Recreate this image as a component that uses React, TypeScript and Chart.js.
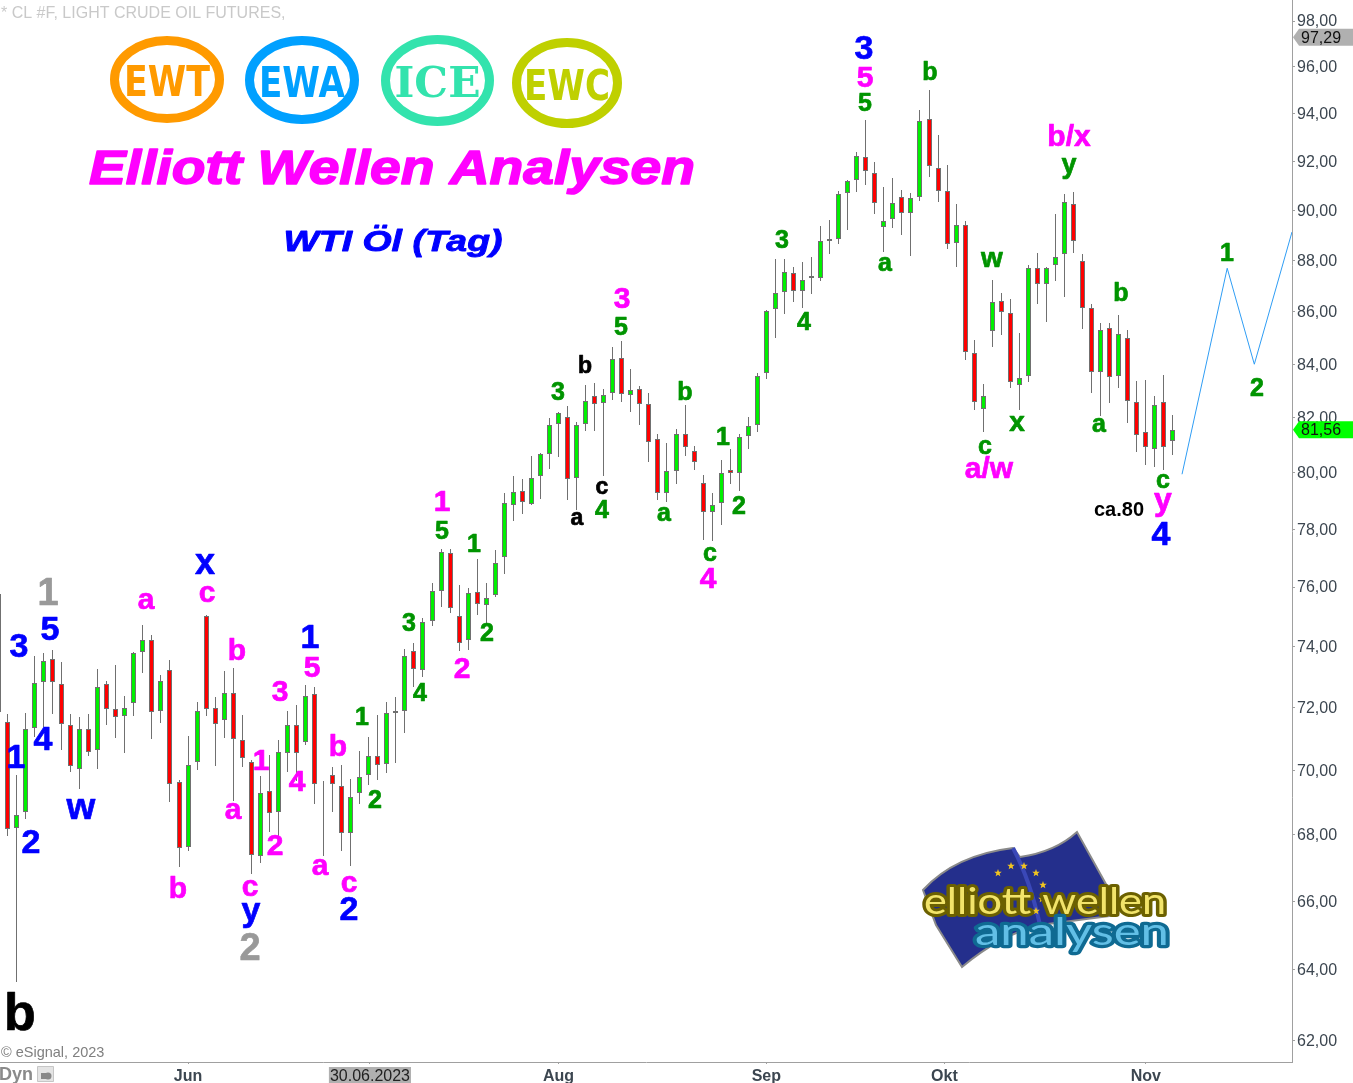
import React, { useEffect, useRef } from "react";
import { Chart, registerables } from "chart.js";

Chart.register(...registerables);

const firstDay = -1;
const opens = [75.76,
  71.54,68.19,68.71,71.35,72.84,73.57,72.75,71.43,70.05,71.30,
  70.63,72.75,71.94,71.71,72.13,73.80,74.20,71.90,73.21,69.62,
  67.61,70.25,75.01,71.97,71.59,72.46,70.95,70.25,67.34,69.34,
  68.70,70.53,71.43,70.90,72.43,69.49,69.84,69.49,68.04,69.28,
  69.84,70.44,70.18,71.81,71.90,73.84,73.21,74.84,75.85,77.16,
  75.01,74.20,75.82,75.38,75.72,77.03,78.87,79.34,78.90,79.87,
  80.67,81.76,82.02,79.80,81.76,82.80,82.54,82.91,84.22,82.84,
  83.06,82.50,81.22,79.27,80.05,81.40,80.78,79.62,78.60,78.91,
  80.12,79.98,81.33,81.73,83.66,86.10,86.76,87.50,86.80,87.33,
  87.31,88.77,88.85,90.71,91.24,92.18,91.52,89.33,89.65,90.54,
  89.89,90.54,93.77,91.73,90.79,88.69,89.41,84.41,82.32,85.25,
  86.41,85.94,83.21,83.55,87.70,87.07,87.82,88.25,90.26,87.97,
  86.14,83.69,85.37,83.55,84.99,82.58,81.47,80.85,82.58,81.14];
const closes = [71.84,
  68.16,68.60,71.30,72.79,73.51,72.82,71.46,70.12,71.30,70.56,
  72.66,71.94,71.68,71.97,73.77,74.20,71.84,72.85,69.56,67.58,
  70.15,71.87,71.94,71.46,72.46,70.98,70.37,67.37,69.28,68.67,
  70.56,71.43,70.53,72.36,69.56,69.51,69.56,68.04,69.15,69.77,
  70.44,70.15,71.81,71.90,73.67,73.25,74.81,75.85,77.20,75.28,
  74.13,75.79,75.42,75.62,76.82,78.91,79.30,78.95,79.80,80.67,
  81.73,82.17,79.77,81.73,82.61,82.50,82.84,84.18,82.88,83.02,
  82.50,81.11,79.27,80.05,81.40,80.93,80.38,78.60,78.87,80.01,
  79.98,81.29,81.69,83.55,86.02,86.72,87.54,86.80,87.23,87.39,
  88.77,88.85,90.67,91.20,92.22,91.60,90.30,89.57,90.30,89.89,
  90.50,93.69,91.81,90.79,88.65,89.41,84.45,82.58,82.80,86.37,
  85.98,83.32,83.47,87.70,87.07,87.70,88.13,90.34,88.77,86.14,
  83.69,85.29,83.51,85.14,82.61,81.36,80.93,82.47,80.93,81.56];
const highs = [75.76,
  71.78,69.84,71.81,73.68,73.77,73.88,73.49,71.78,71.69,71.78,
  73.26,72.85,73.39,72.36,73.81,74.72,74.37,73.05,73.55,69.68,
  71.08,72.16,75.05,72.34,73.19,73.29,71.75,70.31,69.81,70.48,
  70.95,71.88,72.07,72.72,72.67,69.66,70.10,70.16,69.72,70.61,
  71.05,71.75,72.16,72.34,73.91,74.13,74.94,76.14,77.30,77.30,
  76.07,75.97,76.97,76.14,77.28,79.27,79.88,79.78,80.61,80.71,
  81.98,82.20,82.43,81.84,83.22,83.30,83.07,84.64,84.87,83.81,
  83.17,82.91,81.40,81.07,81.58,82.47,80.96,79.91,79.27,80.45,
  80.85,81.40,82.02,83.66,86.07,88.06,88.06,87.75,87.95,88.14,
  89.38,89.62,90.80,91.24,92.40,93.74,91.98,90.95,91.33,90.84,
  90.72,94.16,95.01,93.12,91.86,90.27,89.58,84.92,83.26,87.24,
  86.73,86.50,85.19,87.83,88.30,87.74,89.86,90.68,90.76,88.26,
  86.30,85.56,85.57,85.88,85.30,83.37,83.41,82.81,83.58,82.10];
const lows = [71.84,
  67.95,63.65,68.48,71.06,71.38,71.79,70.64,69.94,69.41,70.45,
  70.03,71.44,71.02,70.54,71.72,73.12,70.99,71.49,69.01,67.02,
  67.50,70.00,71.72,70.13,71.02,69.04,70.10,66.81,67.14,68.08,
  67.95,69.94,69.67,70.80,68.95,67.36,68.70,67.50,67.06,68.95,
  69.53,69.69,69.91,70.22,71.18,72.67,72.99,74.68,75.33,75.12,
  73.85,73.89,75.05,74.72,75.66,76.45,78.29,78.54,78.84,79.07,
  80.13,80.57,79.04,78.68,81.52,81.52,79.88,82.66,82.59,82.22,
  81.74,80.39,79.03,78.96,79.60,80.61,80.10,77.62,77.59,78.15,
  79.60,79.35,80.86,81.48,83.45,85.01,85.93,86.39,86.15,86.70,
  87.21,88.26,88.66,89.22,90.76,91.04,89.86,88.34,89.30,89.02,
  88.18,90.39,91.36,90.35,88.46,87.75,84.16,82.29,81.48,84.65,
  85.11,83.10,82.29,83.32,86.30,85.61,87.20,86.58,88.30,85.34,
  82.92,82.07,82.55,83.10,81.81,80.75,80.28,80.21,80.10,80.65];

const forecastDays = [130, 135, 138, 142.17];
const forecastPrices = [79.95, 87.7, 84.0, 89.14];

const priceTicks = [98,96,94,92,90,88,86,84,82,80,78,76,74,72,70,68,66,64,62];
const dateTickDays = [20, 40.13, 61, 84, 103.7, 126];
const dateTickLabels = ["Jun", "30.06.2023", "Aug", "Sep", "Okt", "Nov"];
const lastHigh = 97.29;
const lastClose = 81.56;

const BLUE = "#0000ff", MAG = "#ff00ff", GRN = "#009400", GRY = "#999999", BLK = "#000000";
// text, centre x, centre y, font size, colour
const waveLabels: [string, number, number, number, string][] = [
  ["1",48,591,38,GRY],["3",19,645,34,BLUE],["5",50,628,34,BLUE],["1",16,756,34,BLUE],["4",43,738,34,BLUE],
  ["2",31,841,34,BLUE],["w",81,809,37,BLUE],["b",20,1011,52,BLK],["a",146,601,30,MAG],["x",205,564,36,BLUE],
  ["c",207,594,30,MAG],["b",237,649,30,MAG],["3",280,691,30,MAG],["1",261,760,30,MAG],["a",233,811,30,MAG],
  ["4",297,781,30,MAG],["2",275,845,30,MAG],["b",178,887,30,MAG],["c",250,888,30,MAG],["y",251,915,34,BLUE],
  ["2",250,946,38,GRY],["1",310,636,34,BLUE],["5",312,667,30,MAG],["b",338,745,30,MAG],["a",320,867,30,MAG],
  ["c",349,884,30,MAG],["2",349,908,34,BLUE],["1",362,716,25,GRN],["2",375,799,25,GRN],["3",409,622,25,GRN],
  ["4",420,692,25,GRN],["1",442,501,30,MAG],["5",442,530,25,GRN],["1",474,543,25,GRN],["2",487,632,25,GRN],
  ["2",462,668,30,MAG],["3",558,391,25,GRN],["b",585,364,23,BLK],["c",602,487,23,BLK],["a",577,518,23,BLK],
  ["4",602,509,25,GRN],["3",622,298,30,MAG],["5",621,326,25,GRN],["a",664,514,25,GRN],["b",685,390,25,GRN],
  ["1",723,436,25,GRN],["2",739,505,25,GRN],["c",710,554,25,GRN],["4",708,578,30,MAG],["3",782,239,25,GRN],
  ["4",804,321,25,GRN],["3",864,47,34,BLUE],["5",865,77,30,MAG],["5",865,102,25,GRN],["b",930,70,25,GRN],
  ["a",885,264,25,GRN],["w",992,259,28,GRN],["c",985,447,25,GRN],["a/w",989,467,30,MAG],["x",1017,423,28,GRN],
  ["b/x",1069,135,30,MAG],["y",1069,168,27,GRN],["a",1099,425,25,GRN],["b",1121,291,25,GRN],["c",1163,481,25,GRN],
  ["y",1163,505,32,MAG],["4",1161,533,34,BLUE],["1",1227,252,25,GRN],["2",1257,387,25,GRN],
];
const priceNote = "ca.80";

const SANS = '"Liberation Sans", Arial, sans-serif';

function fitText(ctx: any, text: string, cx: number, cy: number, font: string, w: number, h: number, color: string, bold = 0) {
  ctx.save();
  ctx.font = font;
  ctx.textBaseline = "alphabetic";
  ctx.textAlign = "center";
  ctx.lineJoin = "round";
  const m = ctx.measureText(text);
  const mh = m.actualBoundingBoxAscent + m.actualBoundingBoxDescent;
  ctx.translate(cx, cy);
  ctx.scale(w / m.width, h / mh);
  ctx.fillStyle = color;
  const by = (m.actualBoundingBoxAscent - m.actualBoundingBoxDescent) / 2;
  if (bold > 0) {
    ctx.strokeStyle = color;
    ctx.lineWidth = bold;
    ctx.strokeText(text, 0, by);
  }
  ctx.fillText(text, 0, by);
  ctx.restore();
}

function badge(ctx: any, cx: number, cy: number, rx: number, ry: number, color: string, text: string, font: string) {
  ctx.save();
  ctx.strokeStyle = color;
  ctx.lineWidth = 9;
  ctx.beginPath();
  ctx.ellipse(cx, cy, rx - 4.5, ry - 4.5, 0, 0, Math.PI * 2);
  ctx.stroke();
  ctx.restore();
  fitText(ctx, text, cx, cy + 1, font, 86, 31, color);
}

function star(ctx: any, x: number, y: number, r: number) {
  ctx.beginPath();
  for (let i = 0; i < 10; i++) {
    const a = -Math.PI / 2 + (i * Math.PI) / 5;
    const q = i % 2 ? r * 0.42 : r;
    if (i === 0) ctx.moveTo(x + q * Math.cos(a), y + q * Math.sin(a));
    else ctx.lineTo(x + q * Math.cos(a), y + q * Math.sin(a));
  }
  ctx.closePath();
  ctx.fillStyle = "#f2c520";
  ctx.fill();
}

function logo(ctx: any) {
  ctx.save();
  ctx.beginPath();
  ctx.moveTo(923, 890);
  ctx.quadraticCurveTo(955, 855, 1013, 848);
  ctx.lineTo(1020, 857);
  ctx.quadraticCurveTo(1055, 852, 1077, 832);
  ctx.lineTo(1112, 895);
  ctx.lineTo(1118, 915);
  ctx.lineTo(1040, 925);
  ctx.quadraticCurveTo(1000, 935, 962, 967);
  ctx.lineTo(936, 925);
  ctx.closePath();
  ctx.fillStyle = "#242f8c";
  ctx.fill();
  ctx.strokeStyle = "#8a8a8a";
  ctx.lineWidth = 2;
  ctx.stroke();
  ctx.beginPath();
  ctx.moveTo(1013, 848);
  ctx.quadraticCurveTo(1030, 880, 1040, 925);
  ctx.strokeStyle = "#3a48b8";
  ctx.lineWidth = 4;
  ctx.stroke();
  const stars = [[998,873],[1011,866],[1024,866],[1036,873],[1043,885],[1042,899],[1036,911]];
  stars.forEach(([x, y]) => star(ctx, x, y, 4));
  ctx.lineJoin = "round";
  ctx.font = '37px Lato, "Noto Sans", sans-serif';
  ctx.textAlign = "left";
  ctx.textBaseline = "alphabetic";
  const drawWord = (t: string, x: number, y: number, w: number, sy: number, outer: string, fill: string) => {
    ctx.save();
    const m = ctx.measureText(t);
    ctx.translate(x, y);
    ctx.scale(w / m.width, sy);
    ctx.strokeStyle = outer;
    ctx.lineWidth = 6;
    ctx.strokeText(t, 0, 0);
    ctx.fillStyle = fill;
    ctx.fillText(t, 0, 0);
    ctx.restore();
  };
  drawWord("elliott wellen", 924, 914, 242, 1, "#6b6000", "#f2e46a");
  drawWord("analysen", 975, 945, 194, 1.05, "#0f6a92", "#62bfe6");
  ctx.restore();
}

const overlay = {
  id: "overlay",
  beforeDatasetsDraw(chart: any) {
    chart.data.datasets.forEach((ds: any, i: number) => {
      if (ds.type === "line") return;
      chart.getDatasetMeta(i).data.forEach((el: any) => {
        el.x = Math.floor(el.x) + 0.5;
        el.y = Math.round(el.y);
        el.base = Math.round(el.base);
      });
    });
  },
  afterDraw(chart: any) {
    const ctx = chart.ctx;
    const yS = chart.scales.y;
    ctx.save();
    // header
    ctx.textBaseline = "middle";
    ctx.textAlign = "left";
    ctx.font = `16px ${SANS}`;
    ctx.fillStyle = "#c9c9c9";
    ctx.fillText("* CL #F, LIGHT CRUDE OIL FUTURES,", 1, 13.5);
    badge(ctx, 167, 79.5, 57, 43.5, "#ff9a00", "EWT", 'bold 34px "DejaVu Sans"');
    badge(ctx, 302, 80, 57, 44, "#00a0ff", "EWA", 'bold 34px "DejaVu Sans"');
    badge(ctx, 437.5, 80.5, 56.5, 45.5, "#33e3ad", "ICE", 'bold 34px "DejaVu Serif"');
    badge(ctx, 567, 83, 55, 45, "#bfd000", "EWC", 'bold 34px "DejaVu Sans"');
    fitText(ctx, "Elliott Wellen Analysen", 392, 171, `italic bold 50px ${SANS}`, 606, 45, MAG, 1.6);
    fitText(ctx, "WTI Öl (Tag)", 393, 241, `italic bold 34px ${SANS}`, 219, 32, BLUE, 1);
    logo(ctx);
    // wave labels, centred on their ink box
    ctx.textAlign = "center";
    ctx.textBaseline = "alphabetic";
    ctx.lineJoin = "round";
    waveLabels.forEach(([t, x, y, s, c]) => {
      ctx.font = `bold ${s}px ${SANS}`;
      const m = ctx.measureText(t);
      const by = y + (m.actualBoundingBoxAscent - m.actualBoundingBoxDescent) / 2;
      ctx.fillStyle = c;
      ctx.strokeStyle = c;
      ctx.lineWidth = 0.7;
      ctx.strokeText(t, x, by);
      ctx.fillText(t, x, by);
    });
    ctx.font = `bold 20px ${SANS}`;
    ctx.fillStyle = BLK;
    ctx.fillText(priceNote, 1119, 516);
    // footer
    ctx.textBaseline = "middle";
    ctx.textAlign = "left";
    ctx.font = `14.5px ${SANS}`;
    ctx.fillStyle = "#808080";
    ctx.fillText("© eSignal, 2023", 1, 1053);
    ctx.font = `bold 18px ${SANS}`;
    ctx.fillStyle = "#8a8a8a";
    ctx.fillText("Dyn", -1, 1075);
    ctx.fillStyle = "#e4e4e4";
    ctx.strokeStyle = "#b5b5b5";
    ctx.fillRect(37.5, 1066.5, 16, 15);
    ctx.strokeRect(37.5, 1066.5, 16, 15);
    ctx.fillStyle = "#888";
    ctx.fillRect(41, 1073, 6, 6);
    ctx.beginPath();
    ctx.arc(48, 1076, 3.5, 0, Math.PI * 2);
    ctx.fill();
    // price tags
    const tag = (v: number, bg: string) => {
      const y = yS.getPixelForValue(v);
      ctx.beginPath();
      ctx.moveTo(1293, y);
      ctx.lineTo(1299, y - 8.5);
      ctx.lineTo(1353, y - 8.5);
      ctx.lineTo(1353, y + 8.5);
      ctx.lineTo(1299, y + 8.5);
      ctx.closePath();
      ctx.fillStyle = bg;
      ctx.fill();
      ctx.fillStyle = "#111";
      ctx.font = `16px ${SANS}`;
      ctx.textAlign = "left";
      ctx.textBaseline = "middle";
      ctx.fillText(v.toFixed(2).replace(".", ","), 1301, y + 1);
    };
    tag(lastHigh, "#b0b0b0");
    tag(lastClose, "#00ff00");
    ctx.restore();
  },
};

export default function App() {
  const ref = useRef<HTMLCanvasElement>(null);
  useEffect(() => {
    const days = opens.map((_, i) => firstDay + i);
    const chart = new Chart(ref.current as HTMLCanvasElement, {
      type: "bar",
      data: {
        datasets: [
          {
            type: "line",
            label: "Prognose",
            data: forecastDays.map((x, i) => ({ x, y: forecastPrices[i] })),
            borderColor: "#2f9df4",
            borderWidth: 1,
            pointRadius: 0,
            tension: 0,
            order: 0,
          },
          {
            label: "Körper",
            data: days.map((x, i) => ({ x, y: [Math.min(opens[i], closes[i]), Math.max(opens[i], closes[i])] })),
            backgroundColor: days.map((_, i) => (closes[i] >= opens[i] ? "#00f000" : "#ff0000")),
            borderColor: "#707070",
            borderWidth: 1,
            borderSkipped: false,
            inflateAmount: 0,
            barThickness: 5,
            grouped: false,
            order: 1,
          },
          {
            label: "Docht",
            data: days.map((x, i) => ({ x, y: [lows[i], highs[i]] })),
            backgroundColor: "#707070",
            borderWidth: 0,
            inflateAmount: 0,
            barThickness: 1,
            grouped: false,
            order: 2,
          },
        ] as any,
      },
      plugins: [overlay],
      options: {
        animation: false,
        responsive: false,
        events: [],
        layout: { padding: 0 },
        plugins: { legend: { display: false }, tooltip: { enabled: false }, title: { display: false } },
        scales: {
          x: {
            type: "linear",
            position: "bottom",
            offset: false,
            min: -0.81,
            max: 142.17,
            afterFit(s: any) { s.height = 21; s.paddingLeft = 0; s.paddingRight = 0; },
            afterBuildTicks(s: any) { s.ticks = dateTickDays.map((value) => ({ value })); },
            border: { display: true, color: "#a0a0a0", width: 1 },
            grid: { display: true, offset: false, drawOnChartArea: false, drawTicks: true, tickLength: 2, tickColor: "#a0a0a0" },
            ticks: {
              autoSkip: false,
              maxRotation: 0,
              minRotation: 0,
              padding: 3,
              color: (c: any) => (c.tick && c.tick.value === 40.13 ? "#222222" : "#3c4650"),
              font: (c: any) => ({
                family: SANS,
                size: 16,
                weight: c.tick && c.tick.value === 40.13 ? "normal" : "bold",
              }),
              showLabelBackdrop: (c: any) => !!(c.tick && c.tick.value === 40.13),
              backdropColor: "#b0b0b0",
              backdropPadding: { x: 1, y: 0 },
              callback: (v: any) => {
                const i = dateTickDays.indexOf(Number(v));
                return i >= 0 ? dateTickLabels[i] : "";
              },
            },
          } as any,
          y: {
            type: "logarithmic",
            position: "right",
            min: 61.4,
            max: 98.93,
            afterFit(s: any) { s.width = 61; s.paddingTop = 0; s.paddingBottom = 0; },
            afterBuildTicks(s: any) { s.ticks = priceTicks.map((value) => ({ value })); },
            border: { display: true, color: "#a0a0a0", width: 1 },
            grid: { display: true, drawOnChartArea: false, drawTicks: true, tickLength: 3, tickColor: "#a0a0a0" },
            ticks: {
              autoSkip: false,
              maxRotation: 0,
              minRotation: 0,
              padding: 2,
              labelOffset: 1,
              color: "#3c4650",
              font: { family: SANS, size: 16 },
              callback: (v: any) => Number(v).toFixed(2).replace(".", ","),
            },
          } as any,
        },
      },
    });
    return () => chart.destroy();
  }, []);
  return (
    <canvas
      ref={ref}
      width={1353}
      height={1083}
      style={{ position: "absolute", left: 0, top: 0, width: 1353, height: 1083, display: "block", background: "#fff" }}
    />
  );
}
